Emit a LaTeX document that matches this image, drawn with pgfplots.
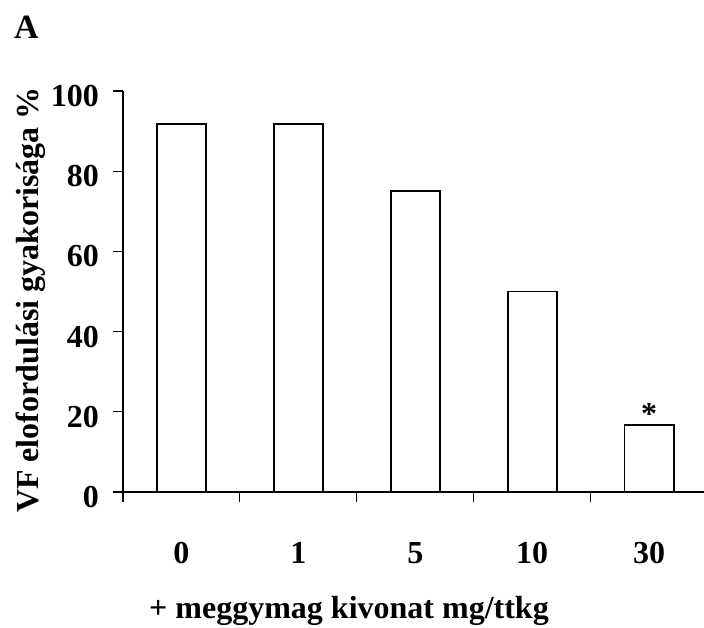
\documentclass[border=0pt]{standalone}
\usepackage{pgfplots}
\pgfplotsset{compat=1.18}
\usepackage{fontspec}
\setmainfont{Liberation Serif}
\newcommand{\bigbf}{\fontsize{32}{38}\selectfont\bfseries}
\begin{document}
\begin{tikzpicture}[x=1pt,y=1pt]
\path[use as bounding box] (0,0) rectangle (704,627);
\begin{axis}[
  at={(123pt,135pt)}, anchor=south west,
  scale only axis, width=581pt, height=401pt,
  xmin=-0.5, xmax=4.47, ymin=0, ymax=100,
  axis x line=bottom, axis y line=left,
  axis line style={-, line width=1.1pt},
  ytick={0,20,...,100},
  xtick={-0.5,0.5,1.5,2.5,3.5},
  xticklabels={,,,,},
  major tick length=10pt, tick align=outside,
  tick style={line width=1.1pt, black},
  extra x ticks={0,1,2,3,4},
  extra x tick labels={0,1,5,10,30},
  extra x tick style={major tick length=0pt},
  xticklabel style={anchor=base, yshift=-71pt, inner sep=0pt},
  yticklabel style={anchor=east, inner sep=0pt, xshift=-14pt, yshift=-5pt},
  ticklabel style={font=\bigbf},
  /pgf/number format/assume math mode=true,
  clip=false,
]
\addplot[ybar, bar width=0.42, fill=white, draw=black, line width=1.8pt]
  coordinates {(0,91.7) (1,91.7) (2,75) (3,50) (4,16.7)};
\node[anchor=base, font=\bigbf, yshift=1pt] at (axis cs:4,16.7) {*};
\end{axis}
\node[rotate=90, anchor=base, font=\bigbf] at (38,327) {VF elofordulási gyakorisága \%};
\node[anchor=base, font=\bigbf] at (349,9) {+ meggymag kivonat mg/ttkg};
\node[anchor=base west, inner sep=0pt, font=\fontsize{34}{40}\selectfont\bfseries] at (14,588) {A};
\end{tikzpicture}
\end{document}
